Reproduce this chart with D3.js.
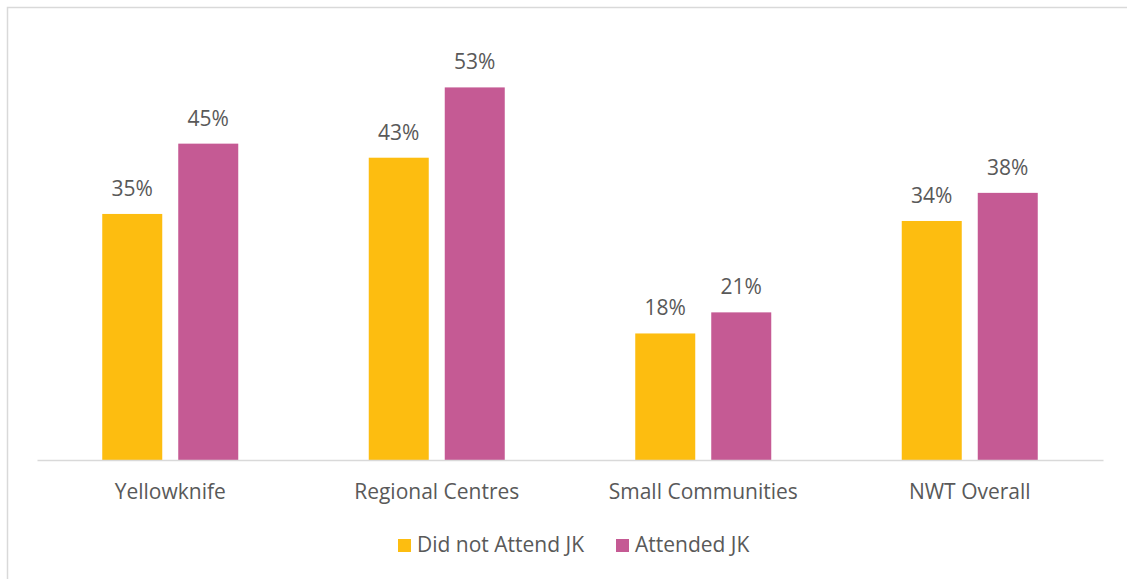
<!DOCTYPE html>
<html>
<head>
<meta charset="utf-8">
<script src="https://cdn.jsdelivr.net/npm/d3@7"></script>
<style>
    body { margin: 0; background: #fff; }
    svg { display: block; }
</style>
</head>
<body>
<svg id="chart" width="1127" height="579"></svg>
<script>
// données du graphique
var categories = ["Yellowknife", "Regional Centres", "Small Communities", "NWT Overall"];
var series = ["Did not Attend JK", "Attended JK"];
var didNotAttend = [35, 43, 18, 34];
var attended = [45, 53, 21, 38];
var colors = ["#FDBD10", "#C55A94"];

var svg = d3.select("#chart"),
    width = +svg.attr("width"),
    height = +svg.attr("height");

var font = "'Open Sans', 'Segoe UI', sans-serif";
var fontSize = "21px";
var textColor = "#595959";

// cadre
svg.append("rect")
    .attr("x", 7.5).attr("y", 7.5)
    .attr("width", width + 10).attr("height", height + 10)
    .attr("fill", "none")
    .attr("stroke", "#d9d9d9")
    .attr("stroke-width", 1.5);

var left = 37, right = 1103, baseY = 460;

var x = d3.scaleBand().domain(categories).range([left, right]).padding(0);
var y = d3.scaleLinear().domain([0, 60]).range([baseY, baseY - 60 * 7.03]);

var barW = 60, gap = 16;
var x1 = d3.scaleOrdinal().domain([0, 1]).range([-(barW + gap / 2), gap / 2]);

var rows = [];
categories.forEach(function(c, i) {
    rows.push({ cat: c, s: 0, v: didNotAttend[i] });
    rows.push({ cat: c, s: 1, v: attended[i] });
});

svg.append("g").selectAll("rect")
    .data(rows)
    .enter().append("rect")
    .attr("x", function(d) { return x(d.cat) + x.bandwidth() / 2 + x1(d.s); })
    .attr("y", function(d) { return y(d.v); })
    .attr("width", barW)
    .attr("height", function(d) { return y(0) - y(d.v); })
    .attr("fill", function(d) { return colors[d.s]; });

svg.append("g").selectAll("text")
    .data(rows)
    .enter().append("text")
    .attr("x", function(d) { return x(d.cat) + x.bandwidth() / 2 + x1(d.s) + barW / 2; })
    .attr("y", function(d) { return y(d.v) - 18; })
    .attr("text-anchor", "middle")
    .style("font-family", font)
    .style("font-size", fontSize)
    .style("fill", textColor)
    .text(function(d) { return d.v + "%"; });

// axe des catégories
var xAxis = svg.append("g")
    .attr("transform", "translate(0," + baseY + ")")
    .call(d3.axisBottom(x).tickSize(0));
xAxis.select(".domain").attr("stroke", "#d9d9d9").attr("stroke-width", 1.5);
xAxis.selectAll("text")
    .attr("y", 39)
    .attr("dy", null)
    .style("font-family", font)
    .style("font-size", fontSize)
    .style("fill", textColor);

// légende
var legendX = [398, 616];
var legend = svg.append("g").selectAll("g")
    .data(series)
    .enter().append("g")
    .attr("transform", function(d, i) { return "translate(" + legendX[i] + ",539)"; });
legend.append("rect")
    .attr("width", 13).attr("height", 13)
    .attr("fill", function(d, i) { return colors[i]; });
legend.append("text")
    .attr("x", 19).attr("y", 13)
    .style("font-family", font)
    .style("font-size", fontSize)
    .style("fill", textColor)
    .text(function(d) { return d; });
</script>
</body>
</html>
